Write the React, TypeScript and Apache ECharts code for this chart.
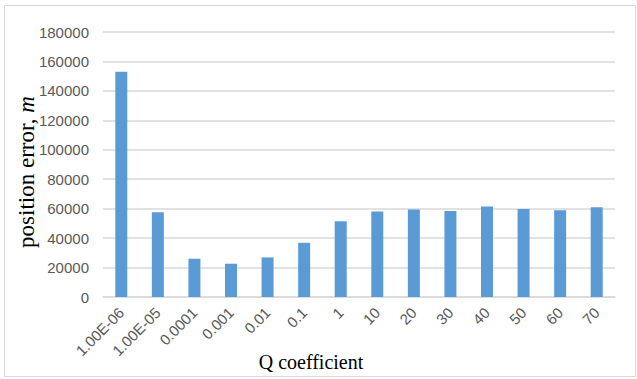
import React, { useEffect, useRef } from "react";
import * as echarts from "echarts";

const categories = ["1.00E-06", "1.00E-05", "0.0001", "0.001", "0.01", "0.1", "1", "10", "20", "30", "40", "50", "60", "70"];
const values = [153000, 57500, 26000, 22600, 26900, 36800, 51500, 58000, 59500, 58500, 61500, 59800, 59000, 61000];
const yTicks = { min: 0, max: 180000, interval: 20000 };
const xTitle = "Q coefficient";
const yTitle = "position error, ";
const yTitleUnit = "m";

export default function App() {
  const ref = useRef<HTMLDivElement>(null);
  useEffect(() => {
    const chart = echarts.init(ref.current!, undefined, { renderer: "svg" });
    chart.setOption({
      animation: false,
      backgroundColor: "#ffffff",
      grid: { left: 103, right: 22, top: 32, bottom: 82, containLabel: false },
      graphic: [
        {
          type: "rect",
          shape: { x: 4.5, y: 5.5, width: 631, height: 371 },
          style: { fill: "none", stroke: "#D9D9D9", lineWidth: 1 },
          silent: true,
        },
        {
          type: "text",
          x: 311,
          y: 362,
          style: {
            text: xTitle,
            fontFamily: "Liberation Serif",
            fontSize: 20,
            fill: "#000",
            align: "center",
            verticalAlign: "middle",
          },
        },
        {
          type: "text",
          x: 26,
          y: 172,
          rotation: Math.PI / 2,
          style: {
            text: yTitle + "{i|" + yTitleUnit + "}",
            fontFamily: "Liberation Serif",
            fontSize: 23,
            fill: "#000",
            align: "center",
            verticalAlign: "middle",
            rich: { i: { fontFamily: "Liberation Serif", fontSize: 23, fontStyle: "italic", fill: "#000" } },
          },
        },
      ],
      xAxis: {
        type: "category",
        data: categories,
        axisLine: { show: true, lineStyle: { color: "#D9D9D9", width: 1.5 } },
        axisTick: { show: false },
        axisLabel: { rotate: 45, fontFamily: "Liberation Sans", fontSize: 15, color: "#595959", margin: 13, interval: 0 },
      },
      yAxis: {
        type: "value",
        min: yTicks.min,
        max: yTicks.max,
        interval: yTicks.interval,
        axisLine: { show: false },
        axisTick: { show: false },
        axisLabel: { fontFamily: "Liberation Sans", fontSize: 15, color: "#595959", margin: 14, formatter: (v: number) => String(v) },
        splitLine: { lineStyle: { color: "#D9D9D9", width: 1.5 } },
      },
      series: [
        {
          type: "bar",
          data: values,
          barWidth: 12,
          itemStyle: { color: "#5B9BD5" },
        },
      ],
    });
    return () => chart.dispose();
  }, []);
  return <div ref={ref} style={{ position: "absolute", left: 0, top: 0, width: 637, height: 379 }} />;
}
